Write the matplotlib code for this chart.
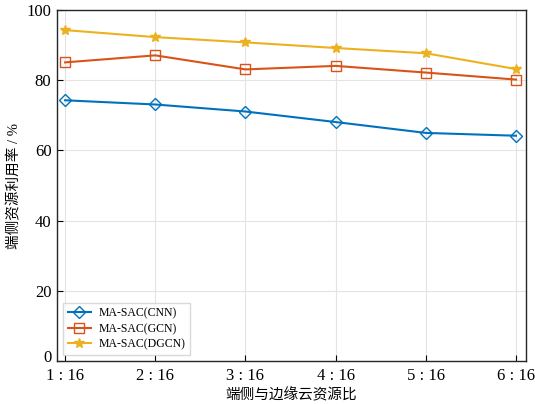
import numpy as np
import matplotlib.pyplot as plt
import matplotlib.transforms as mtransforms

plt.rcParams['font.family'] = ['Liberation Serif', 'Noto Sans CJK SC']
plt.rcParams['axes.unicode_minus'] = False

# data
ratio = [1, 2, 3, 4, 5, 6]
tick_labels = ['1 : 16', '2 : 16', '3 : 16', '4 : 16', '5 : 16', '6 : 16']
cnn = [74.3, 73.1, 71.1, 68.1, 65.0, 64.2]
gcn = [85.1, 87.1, 83.1, 84.1, 82.2, 80.2]
dgcn = [94.3, 92.3, 90.8, 89.2, 87.7, 83.2]

fig = plt.figure(figsize=(5.35, 4.04), dpi=100)
ax = fig.add_axes([0.1065, 0.1064, 0.8765, 0.8686])

ax.plot(ratio, cnn, color='#0072BD', marker='D', mfc='none', ms=6.5, lw=1.5,
        label='MA-SAC(CNN)')
ax.plot(ratio, gcn, color='#D95319', marker='s', mfc='none', ms=7, lw=1.5,
        label='MA-SAC(GCN)')
ax.plot(ratio, dgcn, color='#EDB120', marker='*', ms=7, lw=1.5,
        label='MA-SAC(DGCN)')

ax.set_xlim(0.91, 6.11)
ax.set_ylim(0, 100)
ax.set_xticks(ratio)
ax.set_xticklabels(tick_labels)
ax.set_yticks(np.arange(0, 101, 20))
ax.tick_params(direction='in', labelsize=12, length=4)
ax.tick_params(axis='x', pad=5)
ax.tick_params(axis='y', pad=4)
ax.grid(True, color='#e3e3e3', lw=0.8)
ax.set_axisbelow(True)
for s in ax.spines.values():
    s.set_linewidth(1.0)
    s.set_color('#262626')

# lift the "0" label a little, as in the reference, so it clears "1 : 16"
zero_lbl = ax.get_yticklabels()[0]
zero_lbl.set_transform(zero_lbl.get_transform() +
                       mtransforms.ScaledTranslation(0, 5 / 100, fig.dpi_scale_trans))

ax.set_xlabel('端侧与边缘云资源比', fontsize=10.5, labelpad=3)
ax.set_ylabel('端侧资源利用率 / %', fontsize=10.5, labelpad=4)

ax.legend(loc='lower left', fontsize=8.5, frameon=True, fancybox=False,
          edgecolor='#d0d0d0', handlelength=2.0, borderpad=0.4,
          labelspacing=0.3, handletextpad=0.6)

fig.savefig('out.png', dpi=100)
